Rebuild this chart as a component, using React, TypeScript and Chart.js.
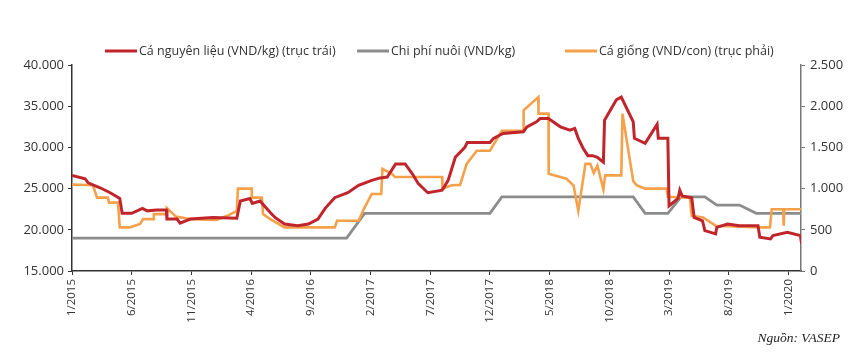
import React, { useEffect, useRef } from "react";
import { Chart, registerables } from "chart.js";

Chart.register(...registerables);

// x-axis tick labels (every 5 months starting 1/2015)
const tickLabels = ["1/2015", "6/2015", "11/2015", "4/2016", "9/2016", "2/2017", "7/2017", "12/2017", "5/2018", "10/2018", "3/2019", "8/2019", "1/2020"];

const seriesNames = ["Cá nguyên liệu (VND/kg) (trục trái)", "Chi phí nuôi (VND/kg)", "Cá giống (VND/con) (trục phải)"];

// Cá nguyên liệu (months since 1/2015, VND/kg)
const redMonth = [0, 1.1, 1.35, 2.35, 3.2, 4.0, 4.2, 5.0, 5.9, 6.3, 7.1, 7.9, 7.95, 8.8, 9.05, 9.9, 11.8, 13.8, 14.1, 14.9, 15.1, 15.75, 16.6, 17.0, 17.8, 18.9, 19.8, 20.6, 21.2, 22.0, 23.1, 24.0, 25.1, 25.8, 26.4, 27.1, 27.9, 28.5, 29.0, 29.8, 31.0, 31.5, 32.1, 32.9, 33.1, 35.0, 35.3, 36.1, 37.8, 38.1, 38.9, 39.2, 39.9, 40.9, 41.7, 42.1, 42.4, 42.8, 43.2, 43.6, 44.0, 44.5, 44.6, 45.6, 46.0, 47.0, 47.1, 48.0, 49.0, 49.1, 49.9, 50.0, 50.75, 50.9, 51.1, 51.9, 52.1, 52.8, 53.0, 53.9, 54.0, 54.9, 55.9, 57.45, 57.6, 58.5, 58.7, 59.9, 61.0, 61.1];
const redPrice = [26600, 26200, 25700, 25100, 24500, 23800, 22000, 22000, 22600, 22300, 22400, 22400, 21300, 21300, 20800, 21300, 21500, 21400, 23500, 23800, 23200, 23500, 22100, 21500, 20700, 20500, 20700, 21300, 22600, 23900, 24500, 25400, 26000, 26300, 26400, 28000, 28000, 26800, 25600, 24500, 24800, 26000, 28800, 30000, 30600, 30600, 31100, 31700, 31900, 32500, 33100, 33500, 33500, 32500, 32100, 32300, 31100, 29900, 29000, 29000, 28800, 28200, 33300, 35800, 36100, 33100, 31100, 30500, 32800, 31100, 31100, 22900, 23800, 24800, 24100, 23900, 21500, 21100, 19900, 19500, 20300, 20700, 20500, 20500, 19100, 18900, 19300, 19700, 19300, 18300];

// Chi phí nuôi (VND/kg)
const grayMonth = [0, 23.0, 24.5, 35.0, 36.0, 47.0, 48.0, 49.9, 51.0, 53.0, 54.0, 55.9, 57.3, 61.05];
const grayCost = [19000, 19000, 22000, 22000, 24000, 24000, 22000, 22000, 24000, 24000, 23000, 23000, 22000, 22000];

// Cá giống (VND/con), right axis
const orangeMonth = [0, 0.1, 1.75, 2.1, 3.0, 3.1, 3.85, 4.0, 4.85, 5.7, 5.95, 6.8, 6.85, 7.9, 7.95, 8.7, 9.9, 12.1, 13.0, 13.8, 13.9, 15.05, 15.06, 15.9, 16.0, 16.6, 17.8, 22.0, 22.2, 24.0, 24.5, 25.1, 25.9, 26.0, 26.8, 27.05, 31.0, 31.02, 31.8, 32.5, 33.05, 33.9, 35.0, 36.0, 37.8, 37.82, 39.05, 39.07, 39.9, 39.92, 41.4, 42.0, 42.4, 43.0, 43.4, 43.7, 44.0, 44.5, 44.65, 46.0, 46.1, 47.0, 47.3, 48.0, 49.8, 49.9, 51.75, 51.9, 52.85, 53.9, 57.6, 58.45, 58.6, 59.55, 59.6, 59.65, 61.05];
const orangeValue = [1040, 1050, 1040, 890, 890, 830, 830, 530, 530, 570, 630, 630, 690, 690, 765, 660, 630, 620, 670, 730, 1000, 1000, 890, 890, 690, 630, 530, 530, 610, 610, 770, 935, 935, 1240, 1180, 1140, 1140, 1000, 1040, 1045, 1300, 1460, 1460, 1700, 1700, 1950, 2110, 1910, 1910, 1180, 1120, 1040, 730, 1300, 1300, 1190, 1280, 990, 1160, 1160, 1910, 1090, 1040, 1000, 1000, 900, 890, 670, 650, 550, 530, 530, 750, 750, 550, 750, 750];

const RED = "#C1252C";
const GRAY = "#8C8C8C";
const ORANGE = "#F5A04B";
const TEXT = "#333333";
const FONT = "'Open Sans', 'Noto Sans', sans-serif";

const fmt = (v: number) => String(Math.round(v)).replace(/\B(?=(\d{3})+(?!\d))/g, ".");
const toPoints = (xs: number[], ys: number[]) => xs.map((x, i) => ({ x, y: ys[i] }));

export default function App() {
  const ref = useRef<HTMLCanvasElement>(null);

  useEffect(() => {
    if (!ref.current) return;
    const colors = [RED, GRAY, ORANGE];
    const legendPlugin = {
      id: "customLegend",
      afterDraw(chart: any) {
        const ctx = chart.ctx as CanvasRenderingContext2D;
        ctx.save();
        const lineX = [105, 357, 565];
        const y = 51;
        ctx.font = `12.5px ${FONT}`;
        ctx.textBaseline = "middle";
        ctx.textAlign = "left";
        seriesNames.forEach((name, i) => {
          ctx.strokeStyle = colors[i];
          ctx.lineWidth = 3;
          ctx.beginPath();
          ctx.moveTo(lineX[i], y);
          ctx.lineTo(lineX[i] + 32, y);
          ctx.stroke();
          ctx.fillStyle = TEXT;
          ctx.fillText(name, lineX[i] + 34, y);
        });
        ctx.font = `italic 13.5px 'Liberation Serif', 'Times New Roman', serif`;
        ctx.textAlign = "right";
        ctx.fillStyle = "#222";
        ctx.fillText("Nguồn: VASEP", 840, 338);
        ctx.restore();
      },
    };

    const chart = new Chart(ref.current, {
      type: "line",
      data: {
        datasets: [
          {
            label: seriesNames[0],
            data: toPoints(redMonth, redPrice),
            borderColor: RED,
            backgroundColor: RED,
            borderWidth: 3,
            pointRadius: 0,
            tension: 0,
            yAxisID: "y",
            order: 0,
          },
          {
            label: seriesNames[1],
            data: toPoints(grayMonth, grayCost),
            borderColor: GRAY,
            backgroundColor: GRAY,
            borderWidth: 2.8,
            pointRadius: 0,
            tension: 0,
            yAxisID: "y",
            order: 2,
          },
          {
            label: seriesNames[2],
            data: toPoints(orangeMonth, orangeValue),
            borderColor: ORANGE,
            backgroundColor: ORANGE,
            borderWidth: 2.6,
            pointRadius: 0,
            tension: 0,
            yAxisID: "yR",
            order: 1,
          },
        ],
      },
      options: {
        animation: false,
        responsive: true,
        maintainAspectRatio: false,
        devicePixelRatio: 1,
        layout: { padding: { top: 65, left: 0, right: 0, bottom: 0 } },
        plugins: { legend: { display: false }, tooltip: { enabled: false } },
        scales: {
          x: {
            type: "linear",
            min: 0,
            max: 61.05,
            afterBuildTicks: (s: any) => {
              s.ticks = tickLabels.map((_, i) => ({ value: i * 5 }));
            },
            afterFit: (s: any) => {
              s.height = 87;
            },
            ticks: {
              autoSkip: false,
              maxRotation: 90,
              minRotation: 90,
              padding: 4,
              color: TEXT,
              font: { family: FONT, size: 11.5 },
              callback: (v: any) => tickLabels[Math.round(Number(v) / 5)] ?? "",
            },
            grid: { drawOnChartArea: false, drawTicks: true, tickLength: 4, color: "#333" },
            border: { display: true, color: "#333", width: 1.5 },
          },
          y: {
            position: "left",
            min: 15000,
            max: 40000,
            afterFit: (s: any) => {
              s.width = 72;
            },
            ticks: {
              stepSize: 5000,
              padding: 4,
              color: TEXT,
              font: { family: FONT, size: 13 },
              callback: (v: any) => fmt(Number(v)),
            },
            grid: { drawOnChartArea: false, drawTicks: true, tickLength: 4, color: "#333" },
            border: { display: true, color: "#333", width: 1.5 },
          },
          yR: {
            position: "right",
            min: 0,
            max: 2500,
            afterFit: (s: any) => {
              s.width = 59;
            },
            ticks: {
              stepSize: 500,
              padding: 5,
              color: TEXT,
              font: { family: FONT, size: 13 },
              callback: (v: any) => fmt(Number(v)),
            },
            grid: { drawOnChartArea: false, drawTicks: true, tickLength: 4, color: "#777" },
            border: { display: true, color: "#777", width: 1.5 },
          },
        },
      },
      plugins: [legendPlugin],
    } as any);

    return () => chart.destroy();
  }, []);

  return (
    <div style={{ position: "fixed", left: 0, top: 0, width: 860, height: 358, background: "#fff" }}>
      <canvas ref={ref} />
    </div>
  );
}
